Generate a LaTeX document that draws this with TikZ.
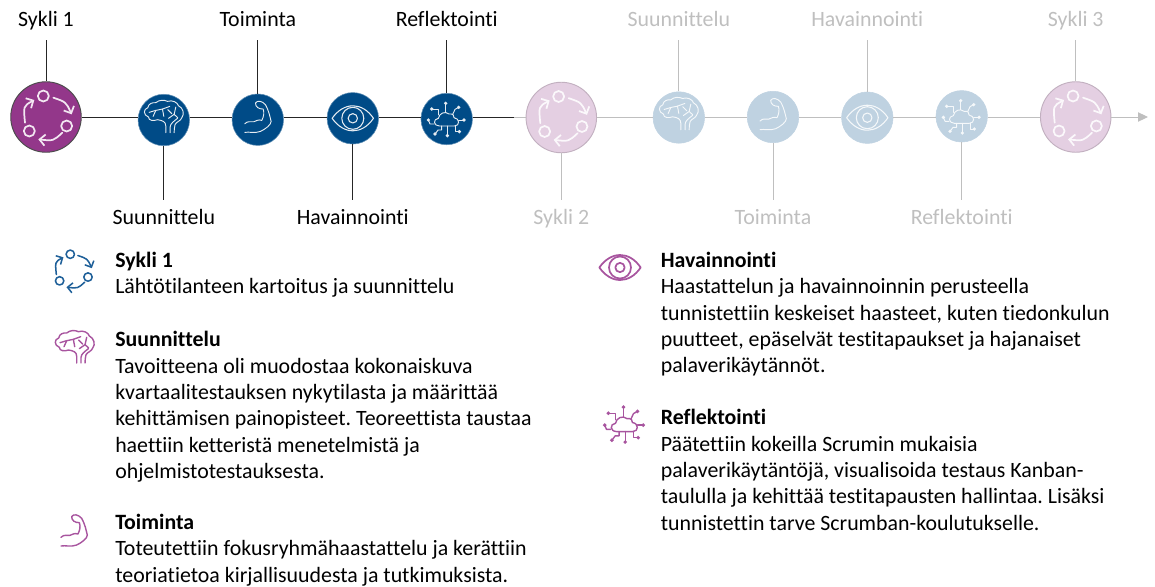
\documentclass[tikz,border=0pt]{standalone}
\usepackage{fontspec}
\setmainfont[Ligatures=NoCommon]{Carlito}
\frenchspacing
\usetikzlibrary{arrows.meta}
\definecolor{dpurple}{HTML}{93378A}
\definecolor{dblue}{HTML}{004B87}
\definecolor{fpurple}{HTML}{E4CFE2}
\definecolor{fblue}{HTML}{BFD2E1}
\definecolor{fline}{HTML}{BFBFBF}
\definecolor{ftext}{HTML}{BFBFBF}
\definecolor{iconpurple}{HTML}{A8559F}
\definecolor{iconblue}{HTML}{1F6099}
\definecolor{linew}{HTML}{E6ECF2}
\newcommand{\iconframe}[6]{%
  \begin{scope}[shift={(#1,#2)},scale=#3,draw=#4,line width=#5,line cap=round,line join=round]
  \begin{scope}[scale=1/3]#6\end{scope}\end{scope}}
\tikzset{cyc/.style={-{Straight Barb[length=0pt 3.2,width=0pt 6.5]}}}
\newcommand{\cycleicon}[5]{\iconframe{#1}{#2}{#3}{#4}{#5}{%
  \begin{scope}[shift={(-138,-143)}]
  \draw (130,80) circle (16.5);
  \draw (200,170) circle (16.5);
  \draw (88,185) circle (16.5);
  \draw[cyc] (160,85) .. controls (198,98) .. (215,135);
  \draw[cyc] (187,190) .. controls (160,215) .. (115,210);
  \draw[cyc] (75,160) .. controls (70,110) .. (103,92);
  \end{scope}}}
\newcommand{\brainicon}[5]{\iconframe{#1}{#2}{#3}{#4}{#5}{%
  \begin{scope}[shift={(-74,-60)}]
  \draw (80,105) -- (80,85) .. controls (80,72) and (70,68) .. (55,66)
    .. controls (45,70) and (28,70) .. (28,58)
    .. controls (12,52) and (12,34) .. (26,30)
    .. controls (28,17) and (40,14) .. (50,15)
    .. controls (60,6) and (75,6) .. (85,11)
    .. controls (100,6) and (115,14) .. (118,24)
    .. controls (132,30) and (137,50) .. (128,60)
    .. controls (125,70) and (112,72) .. (108,80)
    .. controls (106,88) and (105,95) .. (105,105);
  \draw (93,105) -- (93,88) .. controls (93,78) and (105,70) .. (115,62);
  \draw (30,44) -- (50,38) -- (70,34) -- (92,26);
  \draw (50,38) -- (42,56);
  \draw (70,34) -- (74,56);
  \draw (110,28) -- (105,50) -- (88,62);
  \draw (105,50) -- (116,60);
  \draw (86,36) -- (98,48);
  \end{scope}}}
\newcommand{\armicon}[5]{\iconframe{#1}{#2}{#3}{#4}{#5}{%
  \begin{scope}[shift={(-72,-60)}]
  \draw (33,82) .. controls (42,72) and (52,78) .. (60,76)
    .. controls (68,74) and (72,68) .. (84,72)
    .. controls (90,60) and (92,48) .. (88,38)
    .. controls (75,38) and (65,32) .. (65,20)
    .. controls (70,11) and (85,13) .. (95,25)
    .. controls (106,45) and (108,60) .. (112,75)
    .. controls (112,85) and (95,98) .. (80,105)
    .. controls (62,112) and (45,105) .. (33,108);
  \end{scope}}}
\newcommand{\eyeicon}[5]{\iconframe{#1}{#2}{#3}{#4}{#5}{%
  \begin{scope}[shift={(-157,-142)}]
  \draw (95,142) .. controls (130,92) and (185,92) .. (219,142) .. controls (185,192) and (130,192) .. cycle;
  \draw (157,142) circle (33);
  \draw (157,142) circle (14);
  \end{scope}}}
\newcommand{\cloudicon}[5]{\iconframe{#1}{#2}{#3}{#4}{#5}{%
  \begin{scope}[shift={(-440,-142)}]
  \draw (418,163) .. controls (400,163) and (398,142) .. (415,140)
    .. controls (417,125) and (435,117) .. (447,127)
    .. controls (458,125) and (464,132) .. (462,138)
    .. controls (480,140) and (480,163) .. (463,163) -- cycle;
  \draw (437,95) -- (437,122);
  \draw (395,112) -- (415,112) -- (415,130);
  \draw (476,107) -- (465,113) -- (458,128);
  \draw (492,145) -- (476,145);
  \draw (478,180) -- (465,180) -- (465,163);
  \draw (442,192) -- (442,163);
  \draw (405,187) -- (414,175) -- (425,175) -- (425,163);
  \draw (385,145) -- (390,157) -- (402,157);
  \fill[#4] (437,95) circle (5.5) (395,112) circle (5.5) (476,107) circle (5.5) (492,145) circle (5.5)
    (478,180) circle (5.5) (442,192) circle (5.5) (405,187) circle (5.5) (385,145) circle (5.5);
  \end{scope}}}
\tikzset{
  big/.style={circle,minimum size=70.5*0.75pt,inner sep=0pt,line width=0.7pt},
  small/.style={circle,minimum size=51.5*0.75pt,inner sep=0pt,line width=0.4pt},
  bigd/.style={big,fill=dpurple,draw=black!70},
  smalld/.style={small,fill=dblue,draw=fblue!50!dblue},
  bigf/.style={big,fill=fpurple,draw=black!15!fpurple},
  smallf/.style={small,fill=fblue,draw=fblue},
  lab/.style={font=\fontsize{16.4}{18}\selectfont,text height=11pt,text depth=3pt,minimum height=38*0.75pt,inner sep=0pt},
  labd/.style={lab,text=black},
  labf/.style={lab,text=ftext},
  conn/.style={black!85,line width=0.7pt},
  connf/.style={fline,line width=0.7pt},
  body/.style={anchor=north west,align=left,inner sep=0pt,text=black,
    font=\fontsize{16.4}{19.8}\selectfont}
}
\begin{document}
\begin{tikzpicture}[x=0.75pt,y=-0.75pt]
\useasboundingbox (0,0) rectangle (1155,586);
% circles
\node[bigd] (c1) at (46,117) {};
\node[smalld] (s1) at (163.8,120) {};
\node[smalld] (t1) at (257.8,119.7) {};
\node[smalld] (h1) at (352.8,118.3) {};
\node[smalld] (r1) at (446.7,119) {};
\node[bigf] (c2) at (561.3,117.5) {};
\node[smallf] (s2) at (678.8,117.5) {};
\node[smallf] (t2) at (773,117) {};
\node[smallf] (h2) at (867.3,117.7) {};
\node[smallf] (r2) at (961.7,116.3) {};
\node[bigf] (c3) at (1075.7,117) {};
\coordinate (mid) at (514,117);
\coordinate (tip) at (1148,117);
% axis
\draw[conn] (c1.east) -- (s1.west |- c1.east);
\draw[conn] (s1.east |- c1.east) -- (t1.west |- c1.east);
\draw[conn] (t1.east |- c1.east) -- (h1.west |- c1.east);
\draw[conn] (h1.east |- c1.east) -- (r1.west |- c1.east);
\draw[conn] (r1.east |- c1.east) -- (mid);
\draw[connf] (mid) -- (c2.west |- c1.east);
\draw[connf] (c2.east |- c1.east) -- (s2.west |- c1.east);
\draw[connf] (s2.east |- c1.east) -- (t2.west |- c1.east);
\draw[connf] (t2.east |- c1.east) -- (h2.west |- c1.east);
\draw[connf] (h2.east |- c1.east) -- (r2.west |- c1.east);
\draw[connf] (r2.east |- c1.east) -- (c3.west |- c1.east);
\draw[connf,-{Triangle[length=7.5pt,width=7pt]},fline] (c3.east |- c1.east) -- (tip);
% labels
\node[labd] (lc1) at (46,21) {Sykli 1};
\node[labd] (lt1) at (257.8,21) {Toiminta};
\node[labd] (lr1) at (446.7,21) {Reflektointi};
\node[labd] (ls1) at (163.8,219) {Suunnittelu};
\node[labd] (lh1) at (352.8,219) {Havainnointi};
\node[labf] (ls2) at (678.8,21) {Suunnittelu};
\node[labf] (lh2) at (867.3,21) {Havainnointi};
\node[labf] (lc3) at (1075.7,21) {Sykli 3};
\node[labf] (lc2) at (561.3,219) {Sykli 2};
\node[labf] (lt2) at (773,219) {Toiminta};
\node[labf] (lr2) at (961.7,219) {Reflektointi};
% verticals
\draw[conn] (lc1.south) -- (c1.north);
\draw[conn] (lt1.south) -- (t1.north);
\draw[conn] (lr1.south) -- (r1.north);
\draw[conn] (ls1.north) -- (s1.south);
\draw[conn] (lh1.north) -- (h1.south);
\draw[connf] (ls2.south) -- (s2.north);
\draw[connf] (lh2.south) -- (h2.north);
\draw[connf] (lc3.south) -- (c3.north);
\draw[connf] (lc2.north) -- (c2.south);
\draw[connf] (lt2.north) -- (t2.south);
\draw[connf] (lr2.north) -- (r2.south);
% icons in circles
\cycleicon{46}{117}{1}{white!88!dpurple}{1.3pt}
\brainicon{163.8}{117.7}{1}{linew}{0.7pt}
\armicon{257.8}{116.4}{1}{linew}{0.7pt}
\eyeicon{352.8}{118.3}{1}{linew}{0.8pt}
\cloudicon{446.7}{119}{1}{linew}{0.7pt}
\cycleicon{561.3}{117.5}{1}{white!85!fpurple}{1.3pt}
\brainicon{678.8}{114.8}{1}{white!85!fblue}{0.7pt}
\armicon{773}{113.7}{1}{white!85!fblue}{0.7pt}
\eyeicon{867.3}{117.7}{1}{white!85!fblue}{0.8pt}
\cloudicon{961.7}{116.3}{1}{white!85!fblue}{0.7pt}
\cycleicon{1075.7}{117}{1}{white!85!fpurple}{1.3pt}
% list icons
\cycleicon{72.3}{270.2}{0.76}{iconblue}{1.15pt}
\brainicon{74.7}{348}{1}{iconpurple}{1.05pt}
\armicon{74}{530}{1}{iconpurple}{1.05pt}
\eyeicon{620}{267.5}{1}{iconpurple}{1.3pt}
\cloudicon{624.5}{424}{1.08}{iconpurple}{1.05pt}
% texts
\node[body] (b1) at (115,251.5) {\textbf{Sykli 1}\\Lähtötilanteen kartoitus ja suunnittelu};
\node[body] (b2) at (115,331) {\textbf{Suunnittelu}\\Tavoitteena oli muodostaa kokonaiskuva\\kvartaalitestauksen nykytilasta ja määrittää\\kehittämisen painopisteet. Teoreettista taustaa\\haettiin ketteristä menetelmistä ja\\ohjelmistotestauksesta.};
\node[body] (b3) at (115,513.8) {\textbf{Toiminta}\\Toteutettiin fokusryhmähaastattelu ja kerättiin\\teoriatietoa kirjallisuudesta ja tutkimuksista.};
\node[body] (b4) at (660.5,251.7) {\textbf{Havainnointi}\\Haastattelun ja havainnoinnin perusteella\\tunnistettiin keskeiset haasteet, kuten tiedonkulun\\puutteet, epäselvät testitapaukset ja hajanaiset\\palaverikäytännöt.};
\node[body] (b5) at (660.5,409) {\textbf{Reflektointi}\\Päätettiin kokeilla Scrumin mukaisia\\palaverikäytäntöjä, visualisoida testaus Kanban-\\taululla ja kehittää testitapausten hallintaa. Lisäksi\\tunnistettin tarve Scrumban-koulutukselle.};
\end{tikzpicture}
\end{document}
